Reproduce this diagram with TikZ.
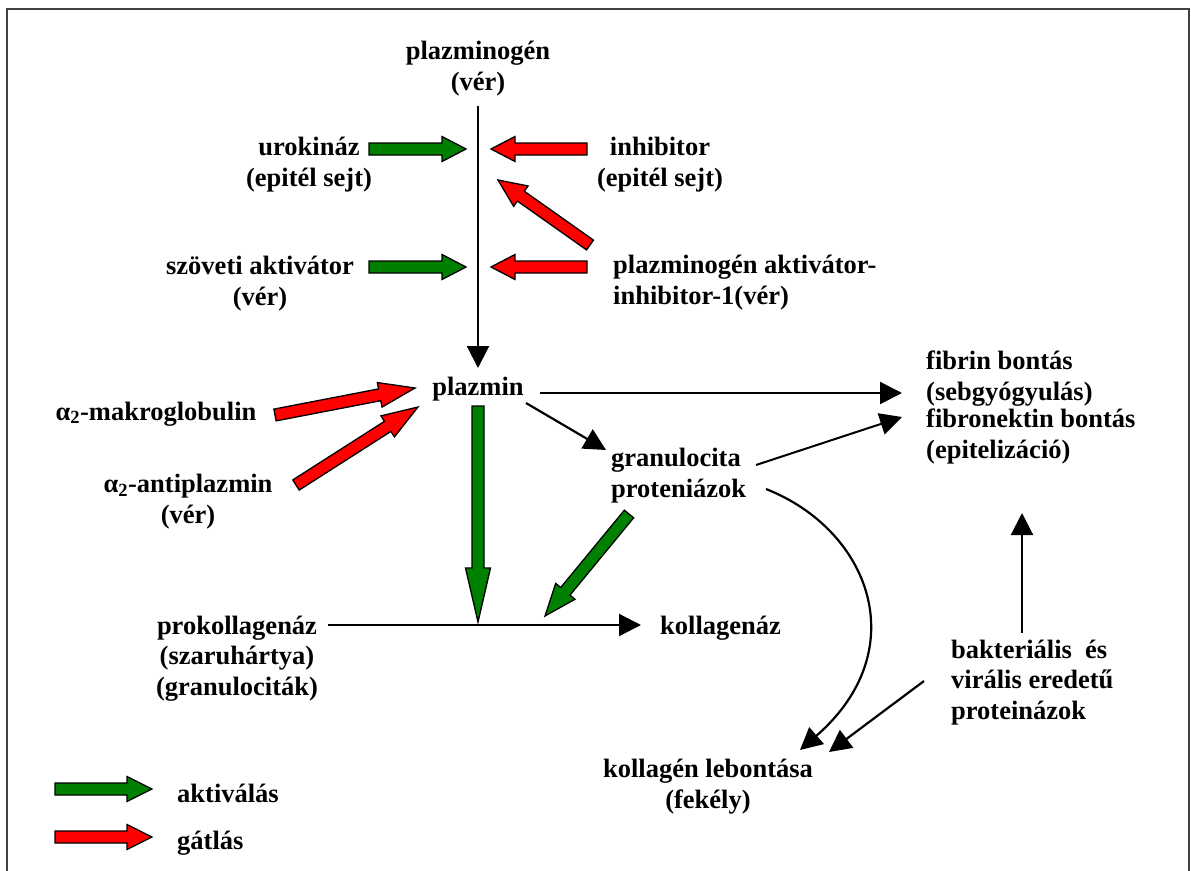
\documentclass[tikz,border=0pt]{standalone}
\usepackage{fontspec}
\setmainfont{Liberation Serif}
\usetikzlibrary{calc,arrows.meta}
\definecolor{actgreen}{RGB}{0,128,0}
\definecolor{inhred}{RGB}{255,0,0}
\tikzset{
  txt/.style={font=\fontsize{26.5}{30.5}\selectfont\bfseries, inner sep=0pt, align=center, anchor=base},
  txtl/.style={font=\fontsize{26.5}{30.5}\selectfont\bfseries, inner sep=0pt, align=left, anchor=base west},
  conn/.style={line width=2.2pt, -{Triangle[length=22pt,width=22pt]}},
  blkline/.style={line width=1.3pt, draw=black, line join=miter},
  frame/.style={line width=2pt, draw=black!75}
}
\newcommand\blk[4]{%
  \coordinate (blkH) at ($(#3)!#4pt!(#2)$);
  \draw[blkline,fill=#1] ($(#2)!6pt!90:(#3)$) -- ($(blkH)!6pt!90:(#3)$) -- ($(blkH)!12.5pt!90:(#3)$) -- (#3) -- ($(blkH)!12.5pt!-90:(#3)$) -- ($(blkH)!6pt!-90:(#3)$) -- ($(#2)!6pt!-90:(#3)$) -- cycle;
}
\begin{document}
\begin{tikzpicture}[x=1pt,y=-1pt]
\useasboundingbox (0,0) rectangle (1191,870);
\fill[white] (0,0) rectangle (1191,870);
\draw[frame] (7,900) -- (7,9) -- (1189,9) -- (1189,900);

% nodes (multi-line nodes are placed at the baseline of their last line)
\node[txt] (pg) at (478,90) {plazminogén\\(vér)};
\node[txt] (uro) at (309,186) {urokináz\\(epitél sejt)};
\node[txt] (inh) at (660,186) {inhibitor\\(epitél sejt)};
\node[txt] (szov) at (260,305) {szöveti aktivátor\\(vér)};
\node[txtl] (pai) at (613,304) {plazminogén aktivátor-\\inhibitor-1(vér)};
\node[txt] (plm) at (478,395) {plazmin};
\node[txt] (makro) at (156,420) {α\textsubscript{2}-makroglobulin};
\node[txt] (anti) at (188,523) {α\textsubscript{2}-antiplazmin\\(vér)};
\node[txtl] (fib) at (926,400) {fibrin bontás\\(sebgyógyulás)};
\node[txtl] (fibn) at (926,458) {fibronektin bontás\\(epitelizáció)};
\node[txtl] (gran) at (611,497) {granulocita\\proteniázok};
\node[txt] (prok) at (237,695) {prokollagenáz\\(szaruhártya)\\(granulociták)};
\node[txtl] (kol) at (660,634) {kollagenáz};
\node[txtl] (bak) at (951,719) {bakteriális\ \ és\\virális eredetű\\proteinázok};
\node[txt] (kleb) at (708,808) {kollagén lebontása\\(fekély)};
\node[txtl] (akt) at (177,802) {aktiválás};
\node[txtl] (gat) at (177,849) {gátlás};

% coordinates for connector ends
\coordinate (pgOut) at (478,106);
\coordinate (plmIn) at (478,368);
\coordinate (plmR) at (540,393);
\coordinate (fibIn) at (902,393);
\coordinate (plmD) at (526,403);
\coordinate (granIn) at (606,450);
\coordinate (granR) at (756,465);
\coordinate (fibnIn) at (902,417);
\coordinate (granC) at (766,489);
\coordinate (klebIn1) at (800,750);
\coordinate (bakL) at (924,681);
\coordinate (klebIn2) at (829,752);
\coordinate (bakUp) at (1022,633);
\coordinate (fibnDown) at (1022,513);
\coordinate (prokR) at (328,625);
\coordinate (kolIn) at (641,625);

\draw[conn] (pgOut) -- (plmIn);
\draw[conn] (plmR) -- (fibIn);
\draw[conn] (plmD) -- (granIn);
\draw[line width=2pt, -{Triangle[length=22pt,width=22pt]}] (granR) -- (fibnIn);
\draw[conn] (granC) .. controls (870,530) and (915,650) .. (klebIn1);
\draw[conn] (bakL) -- (klebIn2);
\draw[conn] (bakUp) -- (fibnDown);
\draw[conn] (prokR) -- (kolIn);

% block arrows
\coordinate (g1s) at (369,149); \coordinate (g1e) at (466,149);
\coordinate (r1s) at (587,149); \coordinate (r1e) at (491,149);
\coordinate (r2s) at (590,245); \coordinate (r2e) at (498,180);
\coordinate (g2s) at (369,267); \coordinate (g2e) at (466,267);
\coordinate (r3s) at (587,267); \coordinate (r3e) at (491,267);
\coordinate (r4s) at (275,415); \coordinate (r4e) at (415,388);
\coordinate (r5s) at (296,485); \coordinate (r5e) at (418,407);
\coordinate (g3s) at (478,406); \coordinate (g3e) at (478,622);
\coordinate (g4s) at (629,514); \coordinate (g4e) at (545,616);
\coordinate (lgs) at (55,789); \coordinate (lge) at (152,789);
\coordinate (lrs) at (55,837); \coordinate (lre) at (152,837);

\blk{actgreen}{g1s}{g1e}{24}
\blk{inhred}{r1s}{r1e}{24}
\blk{inhred}{r2s}{r2e}{28}
\blk{actgreen}{g2s}{g2e}{24}
\blk{inhred}{r3s}{r3e}{24}
\blk{inhred}{r4s}{r4e}{36}
\blk{inhred}{r5s}{r5e}{36}
\blk{actgreen}{g3s}{g3e}{54}
\blk{actgreen}{g4s}{g4e}{32}
\blk{actgreen}{lgs}{lge}{25}
\blk{inhred}{lrs}{lre}{25}
\end{tikzpicture}
\end{document}
